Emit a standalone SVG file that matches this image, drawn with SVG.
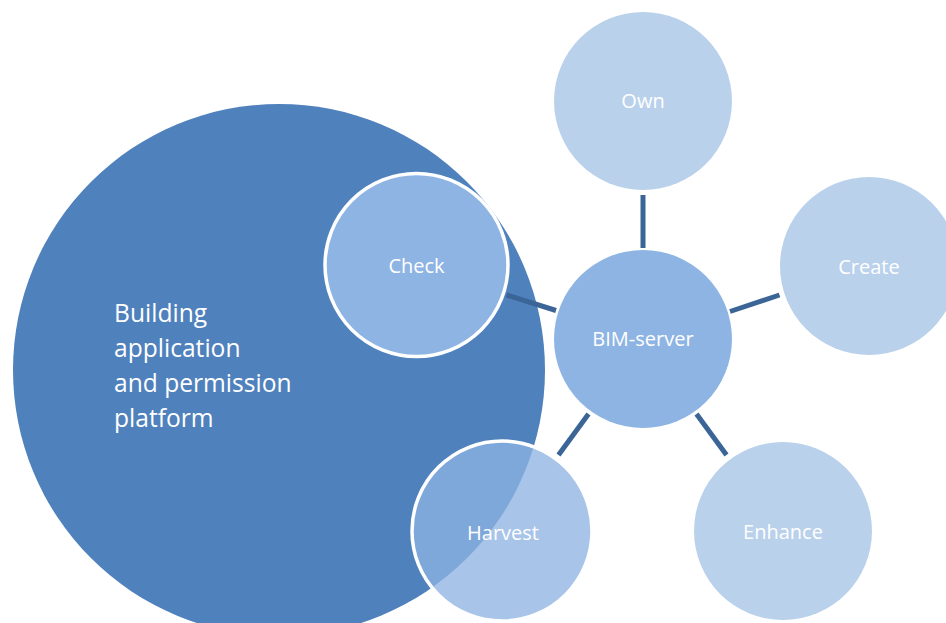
<svg xmlns="http://www.w3.org/2000/svg" width="946" height="623" viewBox="0 0 946 623">
  <style>
    .lbl { font-family: "Open Sans", "Noto Sans", "DejaVu Sans", sans-serif; font-size: 20px; fill: #FFFFFF; text-anchor: middle; }
    .big { font-family: "Open Sans", "Noto Sans", "DejaVu Sans", sans-serif; font-size: 24.6px; fill: #FFFFFF; }
    .conn { stroke: #3C6597; stroke-width: 5; fill: none; }
    .outer { fill: #BAD1EC; }
    .mid { fill: #8EB4E3; }
  </style>
  <rect width="946" height="623" fill="#FFFFFF"/>
  <g id="platform">
    <circle cx="279" cy="370" r="266" fill="#4F81BD"/>
    <text class="big" x="114" y="322">Building</text>
    <text class="big" x="114" y="357">application</text>
    <text class="big" x="114" y="392">and permission</text>
    <text class="big" x="114" y="427">platform</text>
  </g>
  <g id="connectors">
    <line class="conn" x1="643" y1="195" x2="643" y2="248"/>
    <line class="conn" x1="730" y1="311.5" x2="779.5" y2="295"/>
    <line class="conn" x1="506.5" y1="295" x2="556" y2="310.5"/>
    <line class="conn" x1="558.5" y1="455" x2="588.5" y2="414"/>
    <line class="conn" x1="696.5" y1="414" x2="726.5" y2="455"/>
  </g>
  <g id="bim-server">
    <circle class="mid" cx="643" cy="339" r="89"/>
    <text class="lbl" x="643" y="346">BIM-server</text>
  </g>
  <g id="own">
    <circle class="outer" cx="643" cy="101" r="89"/>
    <text class="lbl" x="643" y="108">Own</text>
  </g>
  <g id="create">
    <circle class="outer" cx="869" cy="266" r="89"/>
    <text class="lbl" x="869" y="273.5">Create</text>
  </g>
  <g id="enhance">
    <circle class="outer" cx="783" cy="531" r="89"/>
    <text class="lbl" x="783" y="539">Enhance</text>
  </g>
  <g id="check">
    <circle cx="416.5" cy="265" r="91.5" fill="#8EB4E3" stroke="#FFFFFF" stroke-width="3.5"/>
    <text class="lbl" x="416.5" y="273">Check</text>
  </g>
  <g id="harvest">
    <circle cx="502" cy="531" r="90" fill="#8EB4E3" fill-opacity="0.77" stroke="#FFFFFF" stroke-width="3.5"/>
    <text class="lbl" x="503" y="540">Harvest</text>
  </g>
</svg>
